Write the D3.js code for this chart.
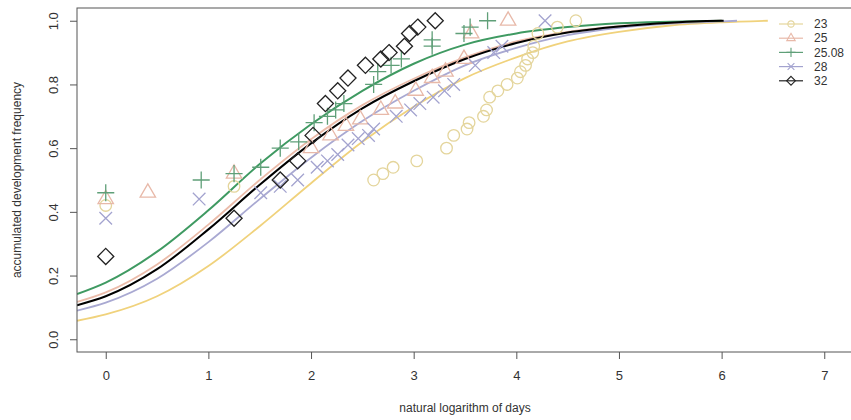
<!DOCTYPE html>
<html lang="en">
<head>
    <meta charset="UTF-8">
    <title>Accumulated development frequency</title>
    <style>
        body { margin: 0; background: #fff; }
        text { font-family: "Liberation Sans", Arial, sans-serif; fill: #333; }
        .tick line { stroke: #555; }
    </style>
    <script src="https://d3js.org/d3.v7.min.js"></script>
</head>
<body>
    <svg width="851" height="420"></svg>
    <script>
        // series labels (temperatures)
        const groups = ["23", "25", "25.08", "28", "32"];

        // observed points: ln(days) and accumulated frequency
        const x23 = [0, 1.25, 2.61, 2.70, 2.80, 3.03, 3.32, 3.39, 3.52, 3.54, 3.68, 3.71, 3.74, 3.82, 3.91, 4.01, 4.04, 4.09, 4.11, 4.16, 4.17, 4.21, 4.40, 4.58];
        const y23 = [0.42, 0.48, 0.50, 0.52, 0.54, 0.56, 0.60, 0.64, 0.66, 0.68, 0.70, 0.72, 0.76, 0.78, 0.80, 0.82, 0.84, 0.86, 0.88, 0.90, 0.92, 0.96, 0.98, 1.00];
        const x25 = [0, 0.41, 1.25, 2.00, 2.19, 2.34, 2.48, 2.68, 2.82, 3.02, 3.18, 3.31, 3.49, 3.56, 3.92];
        const y25 = [0.44, 0.46, 0.52, 0.60, 0.64, 0.67, 0.69, 0.72, 0.74, 0.78, 0.82, 0.84, 0.88, 0.96, 1.00];
        const x2508 = [0, 0.93, 1.25, 1.51, 1.70, 1.88, 2.03, 2.16, 2.24, 2.32, 2.61, 2.65, 2.78, 2.88, 3.18, 3.18, 3.49, 3.55, 3.72];
        const y2508 = [0.46, 0.50, 0.52, 0.54, 0.60, 0.62, 0.68, 0.70, 0.72, 0.74, 0.80, 0.84, 0.86, 0.88, 0.92, 0.94, 0.96, 0.98, 1.00];
        const x28 = [0, 0.91, 1.51, 1.70, 1.87, 2.06, 2.16, 2.26, 2.36, 2.46, 2.56, 2.61, 2.83, 2.97, 3.06, 3.19, 3.30, 3.39, 3.60, 3.78, 3.86, 4.28];
        const y28 = [0.38, 0.44, 0.46, 0.48, 0.50, 0.54, 0.56, 0.58, 0.61, 0.63, 0.64, 0.66, 0.70, 0.72, 0.74, 0.76, 0.78, 0.80, 0.86, 0.90, 0.92, 1.00];
        const x32 = [0, 1.25, 1.70, 1.87, 2.02, 2.14, 2.26, 2.36, 2.53, 2.68, 2.76, 2.91, 2.96, 3.04, 3.21];
        const y32 = [0.26, 0.38, 0.50, 0.56, 0.64, 0.74, 0.78, 0.82, 0.86, 0.88, 0.90, 0.92, 0.96, 0.98, 1.00];

        // fitted curves
        const fitX = [-0.28, 0, 0.5, 1, 1.5, 2, 2.5, 3, 3.5, 4, 4.5, 5, 5.5, 6];
        const fit23 = [0.058, 0.078, 0.135, 0.23, 0.355, 0.49, 0.62, 0.73, 0.82, 0.885, 0.935, 0.965, 0.985, 0.995];
        const fit25 = [0.117, 0.147, 0.235, 0.36, 0.50, 0.628, 0.735, 0.818, 0.885, 0.935, 0.965, 0.983, 0.994, 1.0];
        const fit2508 = [0.142, 0.178, 0.275, 0.405, 0.55, 0.675, 0.78, 0.865, 0.925, 0.96, 0.98, 0.992, 0.997, 1.0];
        const fit28 = [0.09, 0.115, 0.19, 0.305, 0.44, 0.57, 0.685, 0.78, 0.86, 0.915, 0.955, 0.978, 0.991, 0.998];
        const fit32 = [0.107, 0.135, 0.22, 0.345, 0.485, 0.615, 0.725, 0.81, 0.88, 0.93, 0.963, 0.982, 0.994, 1.0];
        const fitEnd = [[6.45, 1.0], [6.0, 1.0], [6.0, 1.0], [6.15, 1.0], [6.02, 1.0]];

        const xTicks = [0, 1, 2, 3, 4, 5, 6, 7];
        const yTicks = [0, 0.2, 0.4, 0.6, 0.8, 1.0];

        const lineColors = ["#f0d27c", "#ebbcaa", "#3f9a62", "#a9a9d2", "#000000"];
        const pointColors = ["#e4d59c", "#e8b9a9", "#5f9f78", "#a3a3cf", "#222222"];
        const lineWidths = [1.8, 1.8, 2, 1.8, 2];
        const symbols = [d3.symbolCircle, d3.symbolTriangle2, d3.symbolPlus, d3.symbolTimes, d3.symbolDiamond2];
        const symbolSizes = [105, 170, 97, 105, 165];

        const pointsX = [x23, x25, x2508, x28, x32];
        const pointsY = [y23, y25, y2508, y28, y32];
        const fits = [fit23, fit25, fit2508, fit28, fit32];

        const svg = d3.select("svg");
        const plotLeft = 77, plotRight = 853, plotTop = 8, plotBottom = 352;

        const x = d3.scaleLinear().domain([-0.28, 7.28]).range([plotLeft, plotRight]);
        const y = d3.scaleLinear().domain([-0.04, 1.04]).range([plotBottom, plotTop]);

        svg.append("defs").append("clipPath").attr("id", "plot")
            .append("rect").attr("x", plotLeft).attr("y", plotTop)
            .attr("width", plotRight - plotLeft).attr("height", plotBottom - plotTop);

        // fitted curves
        const line = d3.line()
            .x(d => x(d[0]))
            .y(d => y(d[1]))
            .curve(d3.curveMonotoneX);

        const curveOrder = [0, 3, 1, 2, 4];
        curveOrder.forEach(i => {
            const pts = fitX.map((v, j) => [v, fits[i][j]]);
            if (fitEnd[i][0] > pts[pts.length - 1][0]) pts.push(fitEnd[i]);
            svg.append("path")
                .attr("clip-path", "url(#plot)")
                .attr("d", line(pts))
                .attr("fill", "none")
                .attr("stroke", lineColors[i])
                .attr("stroke-width", lineWidths[i]);
        });

        // observed points
        groups.forEach((g, i) => {
            const sym = d3.symbol().type(symbols[i]).size(symbolSizes[i]);
            svg.append("g")
                .selectAll("path")
                .data(pointsX[i].map((v, j) => [v, pointsY[i][j]]))
                .enter()
                .append("path")
                .attr("transform", d => `translate(${x(d[0])},${y(d[1])})`)
                .attr("d", sym)
                .attr("fill", "none")
                .attr("stroke", pointColors[i])
                .attr("stroke-width", 1.3);
        });

        // box
        svg.append("rect")
            .attr("x", plotLeft).attr("y", plotTop)
            .attr("width", plotRight - plotLeft).attr("height", plotBottom - plotTop)
            .attr("fill", "none").attr("stroke", "#555").attr("stroke-width", 1);

        // axes
        const xAxis = svg.append("g")
            .attr("transform", `translate(0,${plotBottom})`)
            .call(d3.axisBottom(x).tickValues(xTicks).tickFormat(d3.format("d")).tickSize(7).tickPadding(12));
        xAxis.select(".domain").remove();
        xAxis.selectAll("text").style("font-size", "13px").style("fill", "#333");

        const yAxis = svg.append("g")
            .attr("transform", `translate(${plotLeft},0)`)
            .call(d3.axisLeft(y).tickValues(yTicks).tickFormat(d3.format(".1f")).tickSize(7));
        yAxis.select(".domain").remove();
        yAxis.selectAll("text")
            .attr("x", null).attr("dy", null)
            .attr("text-anchor", "middle")
            .attr("transform", "translate(-24,0) rotate(-90)")
            .attr("dy", "0.35em")
            .style("font-size", "13px").style("fill", "#333");

        svg.append("text")
            .attr("x", (x(0) + x(7)) / 2).attr("y", 412)
            .attr("text-anchor", "middle")
            .style("font-size", "12px")
            .text("natural logarithm of days");

        svg.append("text")
            .attr("transform", `translate(21,${y(0.5)}) rotate(-90)`)
            .attr("text-anchor", "middle")
            .style("font-size", "12px")
            .text("accumulated development frequency");

        // legend
        const legend = svg.append("g").attr("transform", "translate(779,24)");
        groups.forEach((g, i) => {
            const row = legend.append("g").attr("transform", `translate(0,${i * 14.2})`);
            row.append("line").attr("x1", 0).attr("x2", 24)
                .attr("stroke", pointColors[i]).attr("stroke-width", 1.2);
            row.append("path")
                .attr("transform", "translate(12,0)")
                .attr("d", d3.symbol().type(symbols[i]).size(symbolSizes[i] * 0.3)())
                .attr("fill", "none").attr("stroke", pointColors[i]).attr("stroke-width", 1.1);
            row.append("text").attr("x", 35).attr("dy", "0.35em")
                .style("font-size", "12px").text(g);
        });
    </script>
</body>
</html>
